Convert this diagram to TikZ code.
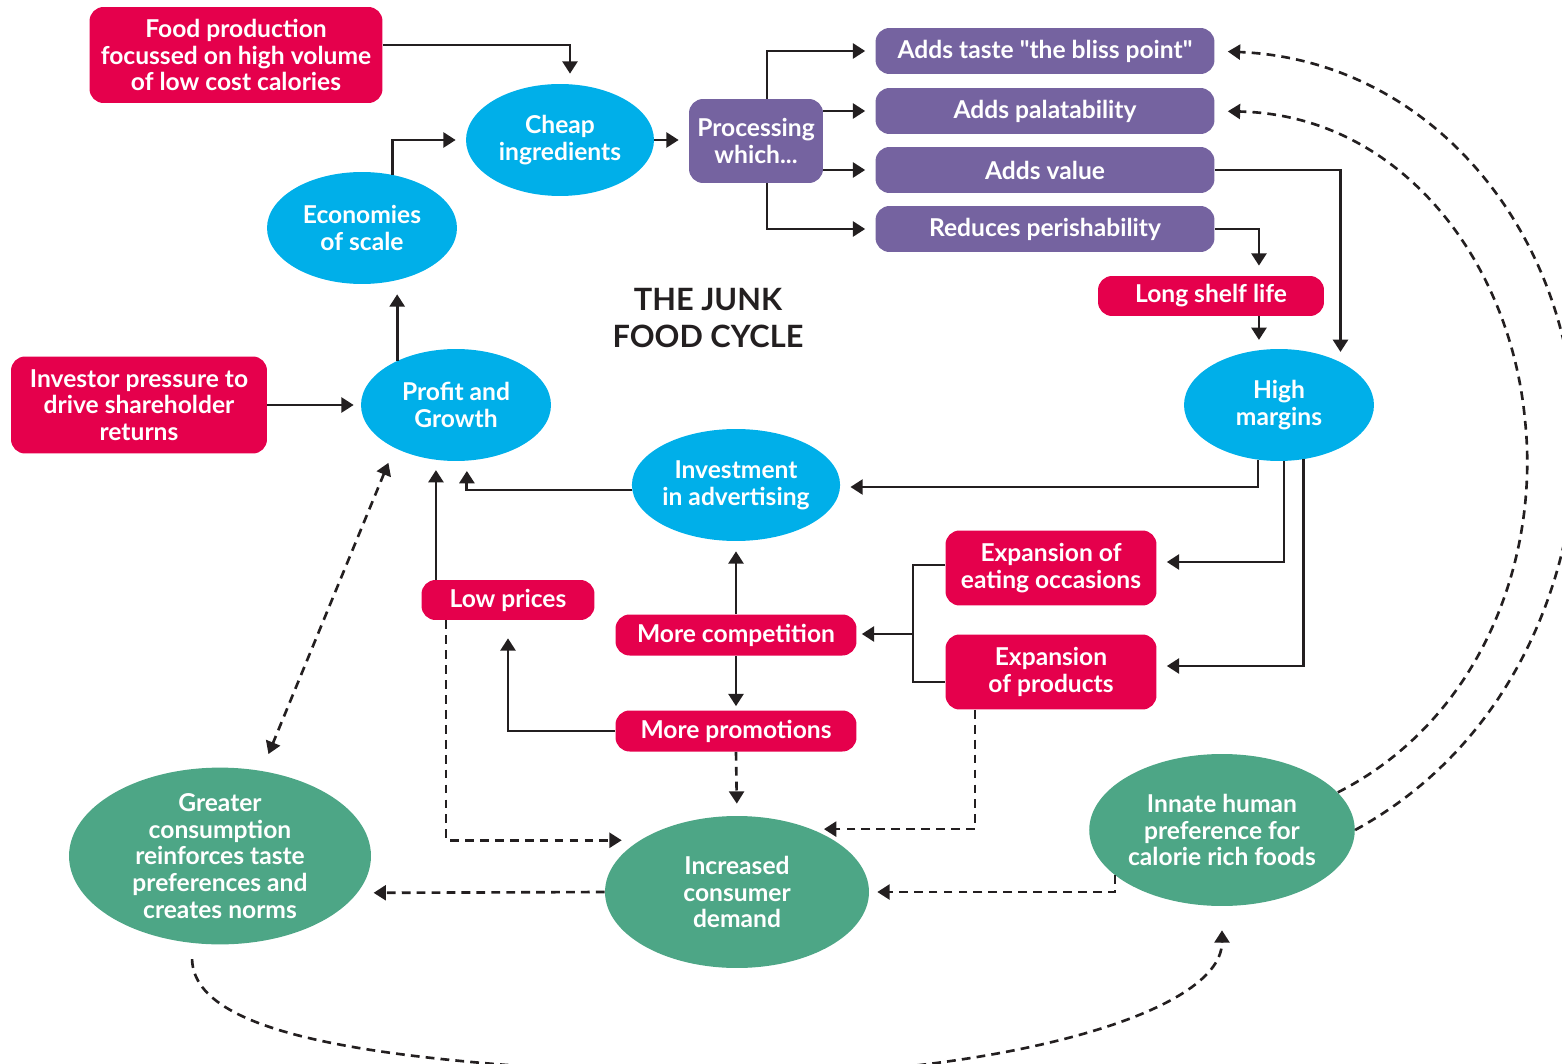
\documentclass[tikz,border=0pt]{standalone}
\usepackage{fontspec}
\setmainfont{Lato}
\newfontfamily\plainquote{Lato}
\usetikzlibrary{shapes.geometric,arrows.meta}

\definecolor{jred}{RGB}{229,0,76}
\definecolor{jpurple}{RGB}{117,99,160}
\definecolor{jblue}{RGB}{0,175,233}
\definecolor{jgreen}{RGB}{77,166,134}
\definecolor{jline}{RGB}{35,31,32}

\newcommand{\dq}{{\plainquote\char34}}

\begin{document}
\begin{tikzpicture}[
  x=0.02cm,
  y=-0.02cm,
  font=\fontsize{14}{15.2}\selectfont\bfseries,
  redbox/.style={
    rectangle,
    rounded corners=8pt,
    fill=jred,
    text=white,
    align=center,
    inner sep=2pt
  },
  purbox/.style={
    rectangle,
    rounded corners=8pt,
    fill=jpurple,
    text=white,
    align=center,
    inner sep=2pt
  },
  bluenode/.style={
    ellipse,
    fill=jblue,
    text=white,
    align=center,
    inner sep=0pt,
    minimum width=3.8cm,
    minimum height=2.24cm
  },
  greennode/.style={
    ellipse,
    fill=jgreen,
    text=white,
    align=center,
    inner sep=0pt
  },
  arr/.style={
    -{Triangle[length=7pt,width=8.5pt]},
    line width=1.6pt,
    draw=jline,
    shorten >=0.2cm
  },
  dsh/.style={
    -{Triangle[length=7pt,width=8.5pt]},
    line width=1.5pt,
    draw=jline,
    dash pattern=on 5pt off 3.5pt,
    shorten >=0.24cm
  },
  headline/.style={
    font=\fontsize{17.5}{21.6}\selectfont\bfseries,
    text=jline,
    align=center
  }
]

\useasboundingbox (0,0) rectangle (1562,1064);

% =========================================================
% NODES
% =========================================================

\node[redbox, minimum width=5.86cm, minimum height=1.92cm] (food) at (236,55)
  {Food production\\focussed on high volume\\of low cost calories};

\node[bluenode, minimum width=3.76cm] (cheap) at (560,140)
  {Cheap\\ingredients};

\node[bluenode] (econ) at (362,228)
  {Economies\\of scale};

\node[purbox, minimum width=2.68cm, minimum height=1.68cm] (proc) at (756,141)
  {Processing\\which...};

\node[purbox, minimum width=6.78cm, minimum height=0.92cm] (taste) at (1045,51)
  {Adds taste \dq the bliss point\dq};

\node[purbox, minimum width=6.78cm, minimum height=0.92cm] (palat) at (1045,111)
  {Adds palatability};

\node[purbox, minimum width=6.78cm, minimum height=0.92cm] (value) at (1045,170)
  {Adds value};

\node[purbox, minimum width=6.78cm, minimum height=0.92cm] (perish) at (1045,229)
  {Reduces perishability};

\node[headline] (cycle) at (708,318)
  {THE JUNK\\FOOD CYCLE};

\node[redbox, minimum width=4.52cm, minimum height=0.8cm] (shelf) at (1211,296)
  {Long shelf life};

\node[bluenode] (high) at (1279,405)
  {High\\margins};

\node[redbox, minimum width=5.12cm, minimum height=1.94cm] (investor) at (139,405)
  {Investor pressure to\\drive shareholder\\returns};

\node[bluenode] (profit) at (456,405)
  {Profit and\\Growth};

\node[bluenode] (invest) at (736,485)
  {Investment\\in advertising};

\node[redbox, minimum width=3.46cm, minimum height=0.8cm] (lowp) at (508,600)
  {Low prices};

\node[redbox, minimum width=4.82cm, minimum height=0.82cm] (comp) at (736,635)
  {More competition};

\node[redbox, minimum width=4.82cm, minimum height=0.82cm] (promo) at (736,731)
  {More promotions};

\node[redbox, minimum width=4.22cm, minimum height=1.5cm] (eatocc) at (1051,568)
  {Expansion of\\eating occasions};

\node[redbox, minimum width=4.22cm, minimum height=1.5cm] (expprod) at (1051,672)
  {Expansion\\of products};

\node[greennode, minimum width=6.04cm, minimum height=3.36cm] (greater) at (220,856)
  {Greater\\consumption\\reinforces taste\\preferences and\\creates norms};

\node[greennode, minimum width=5.28cm, minimum height=3.04cm] (demand) at (737,892)
  {Increased\\consumer\\demand};

\node[greennode, minimum width=5.28cm, minimum height=3.04cm] (innate) at (1222,830)
  {Innate human\\preference for\\calorie rich foods};


% =========================================================
% SUPPLY SIDE
% =========================================================

\draw[arr] (food.east |- 0,45) -| (cheap.north -| 570,0);

\draw[arr] (econ.60) |- (cheap.west);

\draw[arr] (cheap.east) -- (proc.west |- cheap.east);

\draw[arr] (proc.north -| 767,0) |- (taste.west);
\draw[arr] (proc.east |- palat.west) -- (palat.west);
\draw[arr] (proc.east |- value.west) -- (value.west);
\draw[arr] (proc.south -| 767,0) |- (perish.west);

\draw[arr] (value.east) -| (high.35);

\draw[arr] (perish.east) -| (shelf.north -| high.110);

\draw[arr] (shelf.south -| high.110) -- (high.110);


% =========================================================
% MARGINS AND MARKET
% =========================================================

\draw[arr] (high.249) |- (invest.east |- 0,487);

\draw[arr] (high.275) |- (eatocc.east |- 0,562);

\draw[arr] (high.294) |- (expprod.east |- 0,666);

\coordinate (split) at (913,634);

\draw[line width=1.6pt, draw=jline]
  (eatocc.west |- 0,565) -| (split) |- (expprod.west |- 0,682);

\draw[arr, shorten >=0.1cm] (split) -- (comp.east |- split);

\draw[arr] (comp.north) -- (invest.south);

\draw[arr, shorten >=0.08cm] (comp.south) -- (promo.north);

\draw[arr, shorten >=0.36cm] (promo.west) -| (lowp.south);

\draw[arr] (invest.west |- 0,490) -| (profit.281);

\draw[arr] (lowp.north -| profit.250) -- (profit.250);

\draw[arr, shorten >=0.14cm] (investor.east) -- (profit.west);

\draw[arr] (profit.143) -- (profit.143 |- econ.south);


% =========================================================
% DEMAND (DASHED)
% =========================================================

\draw[dsh, {Triangle[length=7pt,width=8.5pt]}-{Triangle[length=7pt,width=8.5pt]},
      shorten <=0.32cm, shorten >=0.36cm]
  (profit.215) -- (greater.64);

\draw[dsh, shorten >=0.36cm] (lowp.south -| 446,0) |- (demand.152);

\draw[dsh] (promo.south) -- (demand.north);

\draw[dsh] (expprod.south -| 975,0) |- (demand.40);

\draw[dsh, shorten >=0.32cm] (demand.west) -- (greater.345);

\draw[dsh, shorten >=0.16cm] (innate.203) |- (demand.east);

\draw[dsh, shorten <=0.32cm, shorten >=0.48cm]
  (greater.252)
  .. controls (194,1040) and (400,1064) .. (690,1075)
  .. controls (960,1083) and (1222,1020) .. (innate.south);

\draw[dsh, shorten >=0.26cm]
  (innate.18)
  .. controls (1480,720) and (1540,560) .. (1525,420)
  .. controls (1510,260) and (1400,115) .. (palat.east);

\draw[dsh, shorten >=0.26cm]
  (innate.east)
  .. controls (1520,740) and (1580,560) .. (1575,430)
  .. controls (1570,230) and (1430,60) .. (taste.east);

\end{tikzpicture}
\end{document}
